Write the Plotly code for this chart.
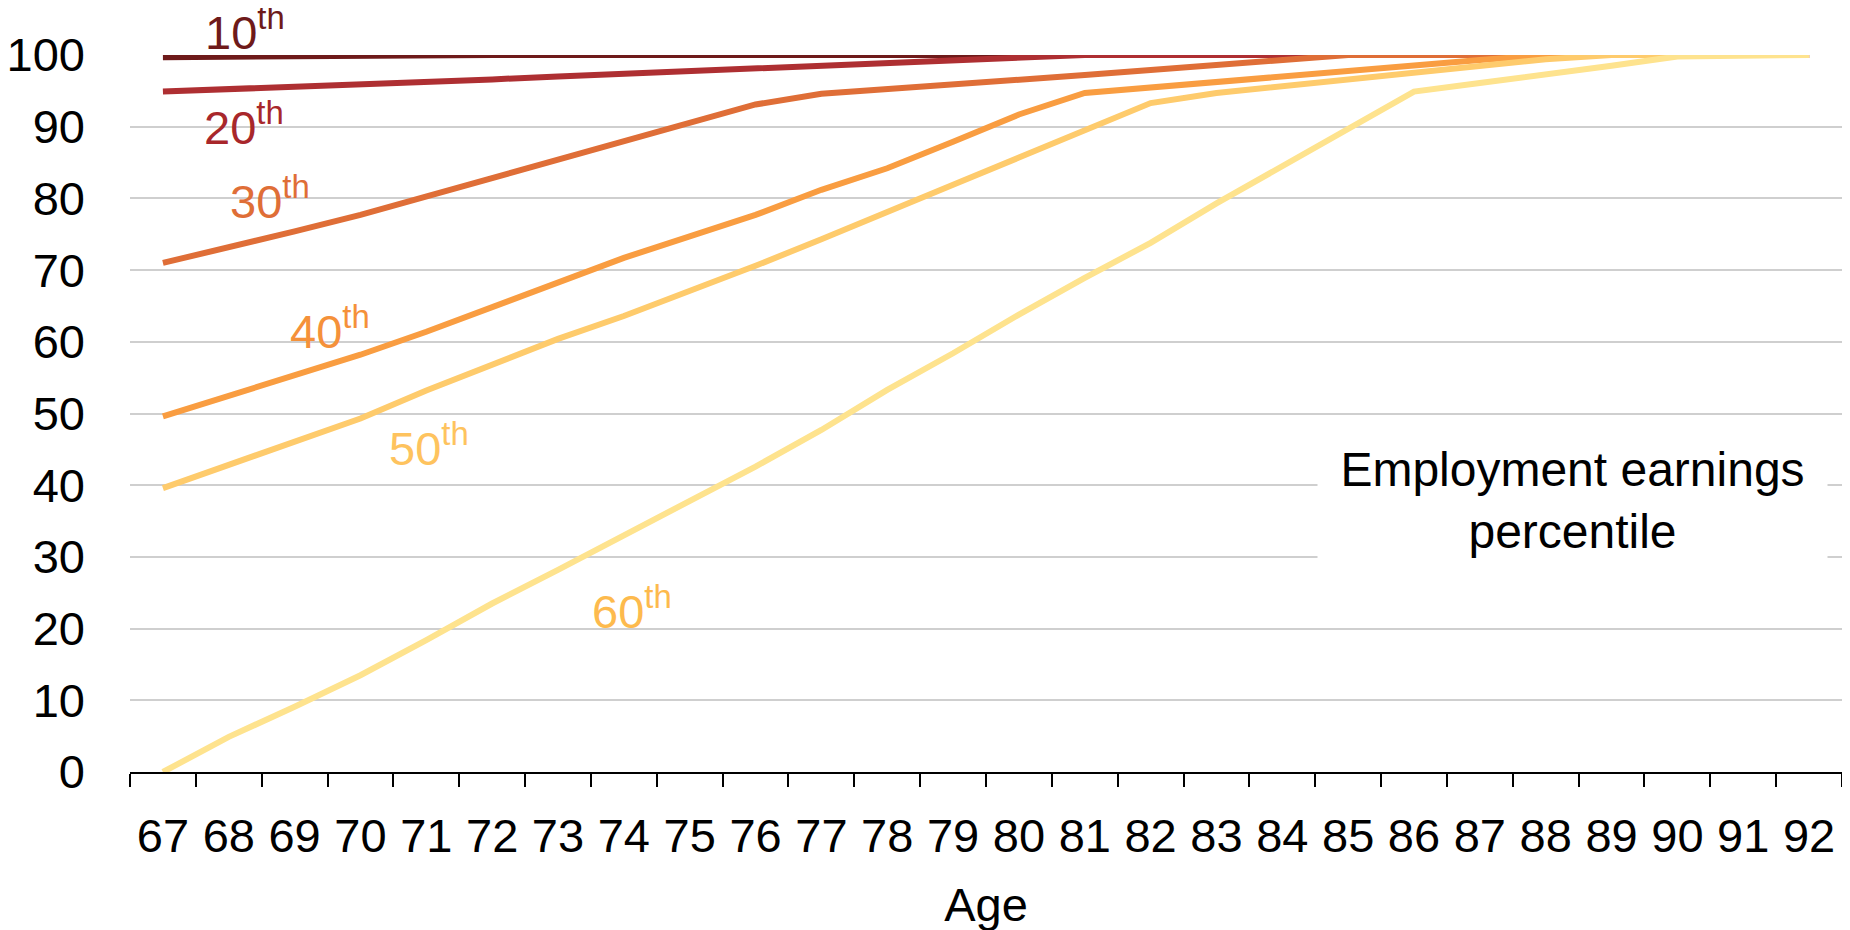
import plotly.graph_objects as go

ages = [str(a) for a in range(67, 93)]

p10 = [99.7, 99.8, 99.9, 100, 100, 100, 100, 100, 100, 100, 100, 100, 100, 100, 100, 100, 100, 100, 100, 100, 100, 100, 100, 100, 100, 100]
p20 = [94.9, 95.2, 95.5, 95.8, 96.2, 96.6, 97.0, 97.4, 97.8, 98.1, 98.4, 98.8, 99.2, 99.6, 100, 100, 100, 100, 100, 100, 100, 100, 100, 100, 100, 100]
p30 = [71.0, 73.1, 75.4, 77.7, 80.3, 82.8, 85.4, 87.9, 90.5, 93.1, 94.6, 95.2, 95.9, 96.6, 97.2, 97.9, 98.6, 99.3, 100, 100, 100, 100, 100, 100, 100, 100]
p40 = [49.6, 52.4, 55.2, 58.2, 61.4, 64.9, 68.2, 71.7, 74.7, 77.7, 81.2, 84.2, 87.9, 91.7, 94.7, 95.5, 96.3, 97.1, 97.9, 98.6, 99.3, 100, 100, 100, 100, 100]
p50 = [39.6, 42.8, 46.1, 49.3, 53.2, 56.8, 60.4, 63.6, 67.0, 70.6, 74.3, 78.0, 81.9, 85.7, 89.6, 93.3, 94.7, 95.6, 96.6, 97.6, 98.5, 99.4, 100, 100, 100, 100]
p60 = [0.0, 4.9, 9.1, 13.5, 18.4, 23.5, 28.2, 33.0, 37.9, 42.6, 47.7, 53.3, 58.4, 63.8, 68.9, 73.8, 79.3, 84.5, 89.7, 94.9, 96.1, 97.2, 98.5, 99.8, 100, 100]

series_names = ["10th", "20th", "30th", "40th", "50th", "60th"]
series_values = [p10, p20, p30, p40, p50, p60]
line_colors = ["#6E1A1A", "#AE2F32", "#DF6E37", "#F99D41", "#FECB6C", "#FEE38E"]
label_colors = ["#6E1A1A", "#A8272B", "#DF6E37", "#F5913A", "#FEC35E", "#FDBA4D"]
# label anchor positions (category index, value)
label_x = [1.25, 1.23, 1.63, 2.54, 4.04, 7.12]
label_y = [103.6, 90.4, 80.1, 61.9, 45.6, 22.9]

Y_MAX = 100
FONT = "Liberation Sans, Arial, sans-serif"
FS = 47

fig = go.Figure()
for name, vals, col in zip(series_names, series_values, line_colors):
    fig.add_trace(go.Scatter(x=ages, y=vals, mode="lines", name=name,
                             line=dict(color=col, width=6), cliponaxis=False,
                             showlegend=False))

for name, lx, ly, col in zip(series_names, label_x, label_y, label_colors):
    num = name[:-2]
    fig.add_annotation(x=lx, y=ly / Y_MAX, xref="x", yref="paper",
                       xanchor="center", yanchor="middle",
                       text=f"{num}<sup>th</sup>", showarrow=False,
                       font=dict(family=FONT, size=FS, color=col))

fig.add_annotation(x=21.41, y=37.8, xref="x", yref="y",
                   xanchor="center", yanchor="middle",
                   text="Employment earnings<br>percentile", showarrow=False,
                   font=dict(family=FONT, size=48, color="black"),
                   bgcolor="white", width=505, height=165, borderpad=2)

fig.update_layout(
    width=1850, height=930,
    margin=dict(l=122, r=16, t=47, b=166),
    paper_bgcolor="white", plot_bgcolor="white",
    font=dict(family=FONT, size=FS, color="black"),
)
fig.update_xaxes(type="category", tickson="boundaries", ticks="outside",
                 ticklen=13, tickwidth=2, tickcolor="black",
                 showline=True, linecolor="black", linewidth=2,
                 showgrid=False, tickfont=dict(size=FS),
                 ticklabelstandoff=22,
                 title=dict(text="Age", font=dict(size=FS), standoff=27),
                 range=[-0.5, 25.5], automargin=False)
fig.update_yaxes(range=[0, Y_MAX], dtick=10, showgrid=True,
                 gridcolor="#CFCFCF", gridwidth=2, zeroline=False,
                 showline=False, ticks="", tickfont=dict(size=FS),
                 ticklabelstandoff=44, automargin=False)

fig.write_html("out.html")
